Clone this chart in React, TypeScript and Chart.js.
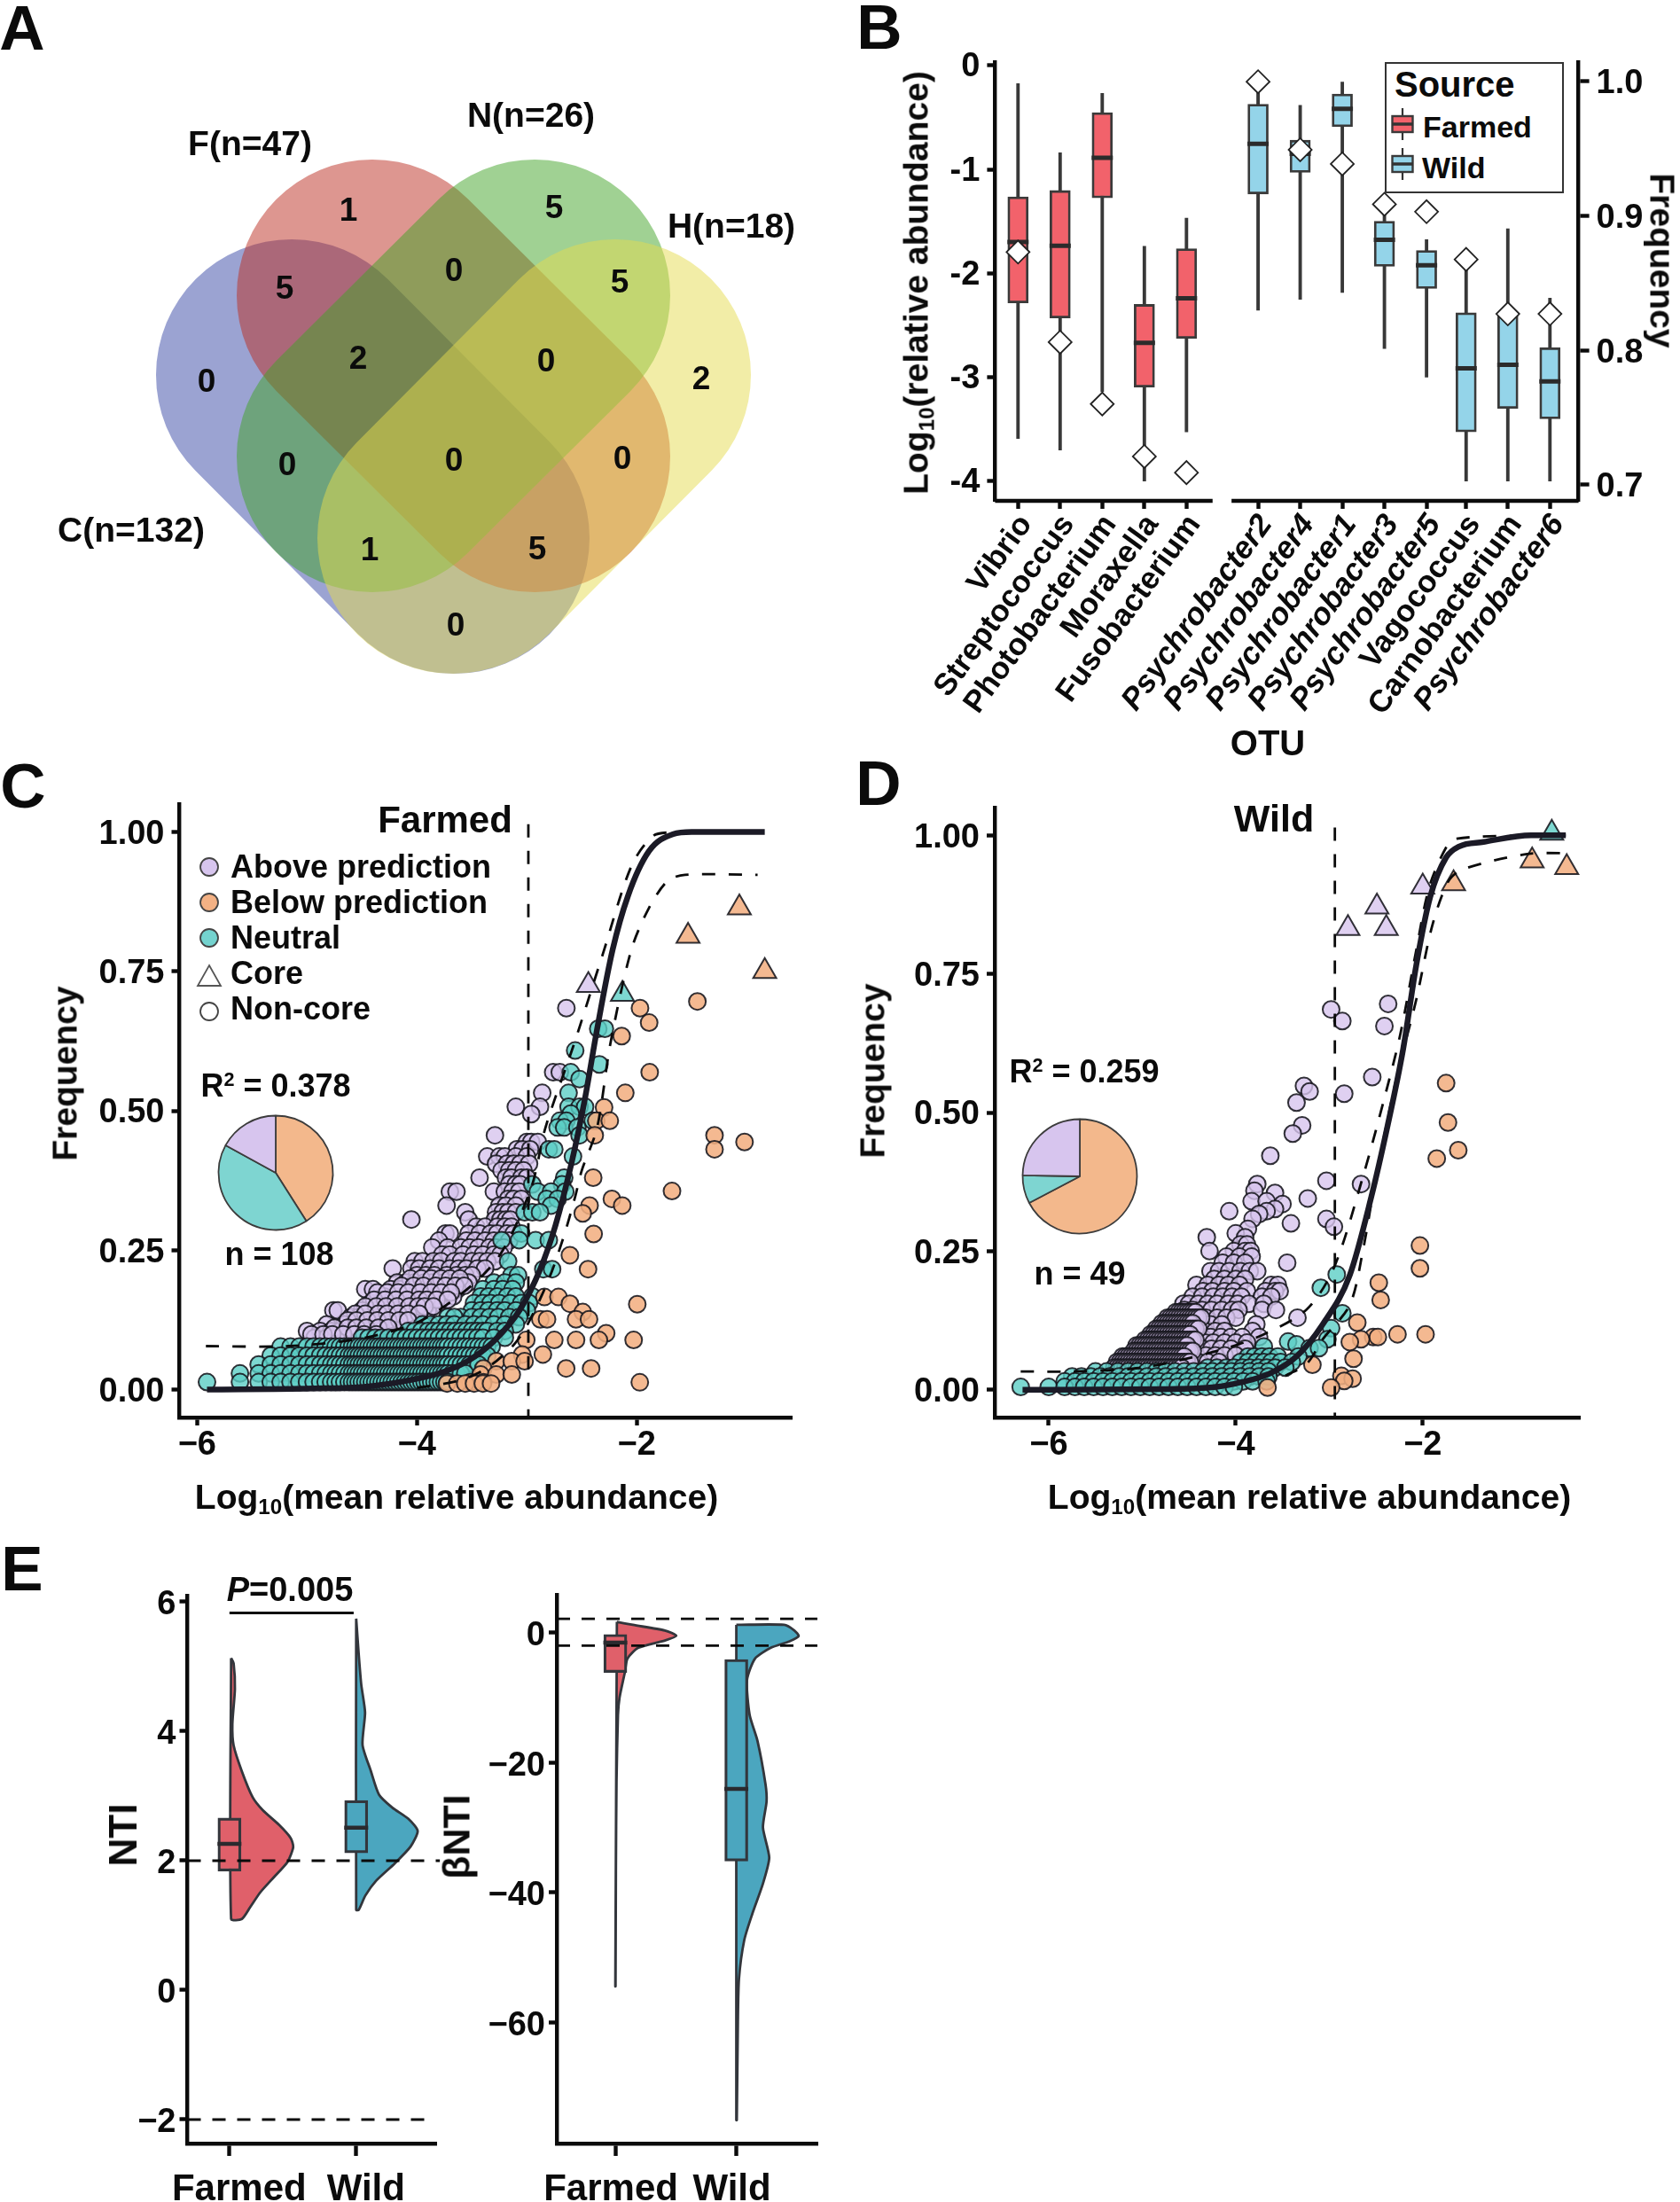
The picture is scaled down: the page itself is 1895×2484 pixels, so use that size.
import React, { useEffect, useRef } from "react";
import { Chart, registerables } from "chart.js";
Chart.register(...registerables);

const FONT = '"Liberation Sans", Arial, sans-serif';
const INK = "#0b0b0b";
const STROKE = "rgba(22,22,28,0.88)";
const CURVE = "#1b1a26";

/* ---------- Panel A ---------- */
const vennSets = ["C", "F", "N", "H"];
const vennEnds = [
  [[329, 423], [512, 607]],
  [[420, 333], [603, 515]],
  [[603, 333], [420, 515]],
  [[694, 423], [511, 607]],
];
const vennColors = ["rgba(55,71,165,0.5)", "rgba(187,45,33,0.5)", "rgba(65,163,39,0.5)", "rgba(229,219,79,0.5)"];
const vennCounts: [string, number, number][] = [
  ["1", 393, 236], ["5", 625, 233], ["5", 321, 324], ["0", 512, 304], ["5", 699, 317],
  ["0", 233, 429], ["2", 404, 403], ["0", 616, 406], ["2", 791, 426], ["0", 324, 523],
  ["0", 512, 518], ["0", 702, 516], ["1", 417, 619], ["5", 606, 618], ["0", 514, 704],
];
const vennLabels: [string, number, number][] = [
  ["F(n=47)", 282, 161], ["N(n=26)", 599, 129], ["H(n=18)", 825, 254], ["C(n=132)", 148, 597],
];

/* ---------- Panel B ---------- */
const otuFarmed = ["Vibrio", "Streptococcus", "Photobacterium", "Moraxella", "Fusobacterium"];
const otuWild = ["Psychrobacter2", "Psychrobacter4", "Psychrobacter1", "Psychrobacter3", "Psychrobacter5", "Vagococcus", "Carnobacterium", "Psychrobacter6"];
const otuSlots = [0, 1, 2, 3, 4, 5.7, 6.7, 7.7, 8.7, 9.7, 10.64, 11.63, 12.63];
const otuWhiskTop = [-0.175, -0.84, -0.27, -1.74, -1.47, -0.22, -0.384, -0.16, -1.38, -1.677, -1.93, -1.573, -2.24];
const otuBoxTop = [-1.265, -1.204, -0.455, -2.3, -1.763, -0.374, -0.72, -0.275, -1.5, -1.78, -2.38, -2.4, -2.716];
const otuMedian = [-1.7, -1.735, -0.89, -2.67, -2.24, -0.754, -0.85, -0.417, -1.677, -1.924, -2.915, -2.88, -3.04];
const otuBoxBottom = [-2.285, -2.43, -1.275, -3.095, -2.626, -1.237, -1.03, -0.59, -1.934, -2.147, -3.526, -3.3, -3.4];
const otuWhiskLow = [-3.59, -3.7, -3.14, -4, -3.526, -2.355, -2.25, -2.185, -2.725, -3, -4, -4, -4];
const otuFrequency = [0.873, 0.806, 0.76, 0.721, 0.709, 0.9996, 0.949, 0.9385, 0.9085, 0.903, 0.8675, 0.827, 0.827];
const bAbundanceTicks = [0, -1, -2, -3, -4];
const bFrequencyTicks = [1.0, 0.9, 0.8, 0.7];

/* ---------- Panels C / D ---------- */
type Rows = [number, number[]][];
const coreAboveC = [{ x: -2.44, y: 0.725 }];
const coreNeutralC = [{ x: -2.13, y: 0.709 }];
const coreBelowC = [{ x: -1.533, y: 0.813 }, { x: -1.066, y: 0.864 }, { x: -0.835, y: 0.75 }];
const belowC: Rows = [
  [0.696, [-1.448]], [0.684, [-1.97]], [0.658, [-1.887]], [0.634, [-2.137]], [0.569, [-1.882]], [0.532, [-2.104]],
  [0.506, [-2.297]], [0.482, [-2.368, -2.245]], [0.456, [-2.382, -1.292]], [0.444, [-1.019]], [0.431, [-1.292]],
  [0.38, [-2.396]], [0.356, [-1.679]], [0.342, [-2.226]], [0.33, [-2.132, -2.429]], [0.316, [-2.491]], [0.279, [-2.392]],
  [0.241, [-2.608]], [0.216, [-2.443]], [0.166, [-2.84, -2.712]], [0.154, [-2.608]], [0.153, [-1.995]], [0.139, [-2.491]],
  [0.126, [-2.877, -2.816, -2.552, -2.434]], [0.101, [-2.278]], [0.089, [-3.005, -2.75, -2.552, -2.344, -2.028]],
  [0.063, [-3.042, -2.854]], [0.051, [-3.278, -3.137, -3.02]], [0.038, [-3.396, -2.642, -2.415]],
  [0.027, [-3.42, -3.278, -3.137]], [0.013, [-3.514, -3.396, -1.972]], [0.011, [-3.726, -3.632, -3.56, -3.48, -3.4, -3.325]],
];
const aboveC: Rows = [
  [0.684, [-2.64]], [0.569, [-2.76, -2.7]], [0.532, [-2.86]], [0.507, [-3.1, -2.88]], [0.494, [-2.96]], [0.456, [-3.29]],
  [0.444, [-3.0, -2.96, -2.9]], [0.431, [-3.09, -3.04, -2.97]], [0.418, [-3.36, -3.25, -3.2, -3.1, -3.0]],
  [0.405, [-3.28, -3.18, -3.12, -3.06, -2.98]], [0.393, [-3.23, -3.16, -3.1, -3.03]], [0.38, [-3.43, -3.19, -3.14, -3.05, -3.0]],
  [0.368, [-3.16, -3.1, -3.06]], [0.355, [-3.7, -3.64, -3.3, -3.2, -3.13, -3.07]], [0.342, [-3.17, -3.12, -3.05]],
  [0.33, [-3.73, -3.25, -3.19, -3.1]], [0.318, [-3.56, -3.28, -3.22, -3.17, -3.1]], [0.305, [-4.05, -3.53, -3.29, -3.24, -3.19, -3.15]],
  [0.292, [-3.46, -3.38, -3.27, -3.2, -3.14]], [0.28, [-3.74, -3.7, -3.53, -3.43, -3.33, -3.27, -3.18, -3.12]],
  [0.267, [-3.8, -3.55, -3.47, -3.38, -3.3, -3.22, -3.16]], [0.255, [-3.86, -3.72, -3.6, -3.52, -3.44, -3.34, -3.28, -3.21]],
  [0.242, [-3.77, -3.7, -3.58, -3.48, -3.4, -3.3, -3.24]], [0.23, [-4.02, -3.95, -3.85, -3.78, -3.66, -3.6, -3.5, -3.43, -3.36, -3.29]],
  [0.217, [-4.22, -4.05, -3.98, -3.88, -3.8, -3.7, -3.62, -3.55, -3.45, -3.38]], [0.205, [-4.0, -3.92, -3.84, -3.73, -3.64, -3.56, -3.5]],
  [0.192, [-4.18, -4.1, -4.02, -3.93, -3.86, -3.76, -3.67, -3.6, -3.53]], [0.18, [-4.47, -4.4, -4.24, -4.15, -4.05, -3.98, -3.88, -3.8, -3.7, -3.63]],
  [0.167, [-4.3, -4.2, -4.12, -4.0, -3.92, -3.84, -3.75, -3.67]], [0.155, [-4.42, -4.34, -4.26, -4.16, -4.06, -3.96, -3.88, -3.8]],
  [0.142, [-4.76, -4.72, -4.5, -4.38, -4.3, -4.2, -4.1, -4.0, -3.9]], [0.13, [-4.6, -4.53, -4.42, -4.33, -4.24, -4.14, -4.05]],
  [0.117, [-4.82, -4.66, -4.58, -4.48, -4.38, -4.28, -4.18]], [0.105, [-5.0, -4.88, -4.78, -4.7, -4.6, -4.5, -4.42, -4.32]],
  [0.093, [-4.93, -4.82, -4.74, -4.64, -4.54, -4.45]],
  [0.199, [-4.06, -3.96, -3.87, -3.78, -3.7, -3.61]], [0.186, [-4.14, -4.03, -3.94, -3.83, -3.74, -3.65, -3.57]],
  [0.174, [-4.36, -4.27, -4.17, -4.08, -3.97, -3.87, -3.78, -3.69]], [0.161, [-4.39, -4.29, -4.19, -4.09, -3.98, -3.91, -3.82, -3.72]],
  [0.149, [-4.47, -4.37, -4.28, -4.18, -4.07, -3.99, -3.93, -3.85]], [0.136, [-4.56, -4.47, -4.35, -4.27, -4.17, -4.08, -3.98]],
  [0.124, [-4.63, -4.55, -4.45, -4.36, -4.26, -4.16, -4.08]], [0.111, [-4.75, -4.63, -4.55, -4.46, -4.35, -4.26]],
  [0.099, [-4.96, -4.85, -4.77, -4.67, -4.57, -4.48, -4.37]],
];
const columnsC = [-5.91, -5.61, -5.44, -5.33, -5.24, -5.15, -5.07, -5.0, -4.94, -4.88, -4.83, -4.78, -4.74, -4.7, -4.66, -4.62, -4.59, -4.56, -4.53, -4.5, -4.47, -4.44, -4.41, -4.38, -4.35, -4.32, -4.29, -4.26, -4.23, -4.2, -4.17, -4.14, -4.11, -4.08, -4.05, -4.02, -3.99, -3.96, -3.93, -3.9, -3.87, -3.84, -3.81, -3.78, -3.75, -3.72, -3.68, -3.64, -3.6, -3.56, -3.52, -3.48, -3.44, -3.4, -3.36, -3.32];
const neutralC: Rows = [
  [0.647, [-2.35, -2.29]], [0.608, [-2.56]], [0.583, [-2.34]], [0.569, [-2.6]], [0.557, [-2.52]], [0.532, [-2.62]],
  [0.507, [-2.62, -2.52, -2.47]], [0.495, [-2.6]], [0.482, [-2.7, -2.64, -2.4]], [0.47, [-2.72, -2.66, -2.54]], [0.456, [-2.52]],
  [0.431, [-2.8, -2.75]], [0.418, [-2.58]], [0.38, [-2.66]], [0.368, [-2.95, -2.68]], [0.355, [-2.9, -2.78, -2.65]],
  [0.342, [-2.82, -2.72]], [0.33, [-2.78]], [0.318, [-3.02, -2.95, -2.88]], [0.28, [-3.05]], [0.268, [-3.23, -3.07, -2.92, -2.8]],
  [0.23, [-3.17]], [0.216, [-2.85, -2.77]], [0.205, [-3.14, -3.08]], [0.192, [-3.3, -3.2, -3.1]], [0.18, [-3.4, -3.3, -3.22, -3.13]],
  [0.167, [-3.42, -3.35, -3.27, -3.18, -3.1, -2.95]], [0.155, [-3.48, -3.4, -3.33, -3.25, -3.15, -3.05, -2.98]],
  [0.142, [-3.5, -3.42, -3.35, -3.27, -3.2, -3.1, -3.0]], [0.13, [-3.6, -3.5, -3.42, -3.34, -3.26, -3.16, -3.07, -3.72, -3.66]],
  [0.117, [-3.95, -3.88, -3.8, -3.73, -3.66, -3.56, -3.48, -3.4, -3.3, -3.2, -3.1]],
  [0.105, [-4.08, -4.02, -3.96, -3.9, -3.85, -3.8, -3.75, -3.7, -3.65, -3.6, -3.55, -3.5, -3.45, -3.4, -3.36, -3.27, -3.2]],
  [0.093, [-4.5, -4.44, -4.38, -4.32, -4.26, -4.2, -4.15, -4.1, -4.05, -4.0, -3.95, -3.9, -3.85, -3.8, -3.75, -3.7, -3.65, -3.6, -3.55, -3.5, -3.45, -3.4, -3.3, -3.2]],
  [0.077, columnsC.slice(4, 56)],
  [0.061, columnsC.slice(3, 55)],
  [0.045, columnsC.slice(2, 53)],
  [0.029, columnsC.slice(1, 50)],
  [0.0135, columnsC.slice(0, 46)],
];
const curveCx = [-5.91, -4.95, -4.48, -4.01, -3.77, -3.54, -3.3, -3.06, -2.88, -2.74, -2.59, -2.47, -2.36, -2.22, -2.08, -1.89, -1.67, -1.5, -0.835];
const curveCy = [0, 0.002, 0.005, 0.019, 0.031, 0.051, 0.087, 0.144, 0.215, 0.294, 0.409, 0.523, 0.647, 0.788, 0.885, 0.965, 0.996, 1, 1];
const upperCx = [-5.92, -5.17, -4.5, -3.97, -3.5, -3.23, -2.96, -2.83, -2.57, -2.31, -2.05, -1.85, -1.67];
const upperCy = [0.078, 0.078, 0.092, 0.123, 0.187, 0.246, 0.362, 0.47, 0.62, 0.78, 0.938, 0.993, 1];
const lowerCx = [-4.0, -3.6, -3.36, -3.12, -2.99, -2.8, -2.66, -2.56, -2.5, -2.36, -2.24, -2.05, -1.89, -1.72, -1.56, -0.9];
const lowerCy = [0.003, 0.017, 0.039, 0.08, 0.118, 0.198, 0.277, 0.346, 0.393, 0.47, 0.62, 0.788, 0.863, 0.912, 0.923, 0.923];
const cutoffCx = -2.986;
const pieCValues = [41, 42, 17];

const coreAboveD = [{ x: -2, y: 0.907 }, { x: -2.49, y: 0.871 }, { x: -2.8, y: 0.832 }, { x: -2.39, y: 0.832 }];
const coreNeutralD = [{ x: -0.62, y: 1.004 }];
const coreBelowD = [{ x: -0.83, y: 0.954 }, { x: -0.46, y: 0.942 }, { x: -1.67, y: 0.913 }];
const belowD: Rows = [
  [0.553, [-1.75]], [0.482, [-1.73]], [0.432, [-1.62]], [0.417, [-1.85]], [0.26, [-2.03]], [0.219, [-2.03]], [0.193, [-2.47]], [0.162, [-2.45]],
  [0.121, [-2.7]], [0.1, [-2.27, -1.97]], [0.095, [-2.53, -2.48]], [0.091, [-2.66]], [0.086, [-2.78]], [0.056, [-2.74]], [0.045, [-3.18]],
  [0.025, [-2.87]], [0.02, [-2.75]], [0.016, [-2.84]], [0.004, [-2.98, -3.66]],
];
const columnsD = [-5.3, -5.27, -5.24, -5.21, -5.18, -5.15, -5.12, -5.09, -5.06, -5.03, -5.0, -4.97, -4.94, -4.91, -4.88, -4.85, -4.82, -4.79, -4.76, -4.73, -4.7, -4.67, -4.64, -4.61, -4.58, -4.55, -4.52, -4.49, -4.46, -4.43, -4.4, -4.37, -4.34, -4.31];
const aboveD: Rows = [
  [0.696, [-2.37]], [0.686, [-2.98]], [0.665, [-2.86]], [0.656, [-2.41]], [0.564, [-2.54]], [0.548, [-3.27]], [0.538, [-3.21]], [0.534, [-2.84]],
  [0.518, [-3.35]], [0.477, [-3.29]], [0.462, [-3.39]], [0.422, [-3.63]], [0.377, [-3.03]], [0.371, [-3.77, -2.66]], [0.359, [-3.8]], [0.355, [-3.58]],
  [0.345, [-3.23]], [0.34, [-3.83, -3.67]], [0.335, [-3.5]], [0.326, [-3.58]], [0.322, [-4.07, -3.67]], [0.317, [-3.75]], [0.308, [-3.82, -3.03]],
  [0.3, [-3.41]], [0.294, [-2.95]], [0.29, [-3.87]], [0.282, [-4.0]], [0.275, [-4.31, -3.9]], [0.262, [-3.95, -3.88]], [0.25, [-4.28, -4.02, -3.9, -3.84]],
  [0.24, [-4.1, -3.96, -3.83]], [0.229, [-4.14, -4.02, -3.9, -3.45]], [0.214, [-4.27, -4.18, -4.07, -3.95, -3.85, -3.77]], [0.2, [-4.23, -4.12, -4.0, -3.9]],
  [0.189, [-4.42, -4.3, -4.18, -4.08, -3.96, -3.62, -3.55]], [0.178, [-4.35, -4.25, -4.12, -4.02, -3.88, -3.68, -3.58, -3.53]],
  [0.168, [-4.46, -4.36, -4.24, -4.14, -4.04, -3.94, -3.72, -3.62]], [0.155, [-4.56, -4.5, -4.4, -4.3, -4.2, -4.08, -3.98, -3.86, -3.7]],
  [0.144, [-4.55, -4.46, -4.36, -4.26, -4.15, -4.04, -3.97, -3.72, -3.57]], [0.13, [-4.32, -4.2, -4.1, -4.0, -3.34]],
  [0.118, [-4.37, -4.27, -4.15, -3.78]], [0.106, [-4.33, -4.22, -4.12, -3.82]],
  [0.095, [-4.36, -4.27, -4.16, -4.05, -3.93, -3.75]], [0.085, [-4.33, -4.24, -4.12, -4.0, -3.88]],
  [0.074, [-4.36, -4.26, -4.16, -4.05, -3.9]], [0.062, [-4.32, -4.22, -4.12, -4.0]], [0.05, [-4.4, -4.3, -4.18]],
  [0.14, columnsD.slice(22, 30)], [0.13, columnsD.slice(19, 32)], [0.12, columnsD.slice(17, 29)], [0.11, columnsD.slice(15, 31)],
  [0.1, columnsD.slice(13, 28)], [0.09, columnsD.slice(11, 30)], [0.08, columnsD.slice(8, 27)], [0.07, columnsD.slice(7, 29)],
  [0.06, columnsD.slice(3, 26)], [0.05, columnsD.slice(1, 28)], [0.04, columnsD.slice(0, 25)],
];
const neutralD: Rows = [
  [0.208, [-2.92]], [0.184, [-3.09]], [0.138, [-2.86]], [0.111, [-2.98]], [0.091, [-3.02]], [0.087, [-3.44]], [0.082, [-3.35]], [0.078, [-3.7]],
  [0.075, [-3.21, -3.11]], [0.06, [-3.87, -3.8, -3.72, -3.64, -3.55, -3.33]], [0.05, [-3.95, -3.87, -3.78, -3.7, -3.62, -3.52, -3.4]],
  [0.04, [-4.3, -4.2, -4.1, -4.02, -3.93, -3.85, -3.76, -3.67, -3.58, -3.47]],
  [0.033, [-5.5, -5.38, -5.26, -5.15, -5.05, -4.95, -4.85, -4.75, -4.65, -4.55, -4.45, -4.35, -4.25, -4.15, -4.05, -3.95, -3.85, -3.75, -3.65]],
  [0.024, [-5.75, -5.65, -5.55, -5.45, -5.35, -5.25, -5.15, -5.05, -4.95, -4.85, -4.75, -4.65, -4.55, -4.45, -4.35, -4.25, -4.15, -4.05, -3.95, -3.85, -3.75, -3.65]],
  [0.015, [-5.83, -5.72, -5.62, -5.52, -5.42, -5.32, -5.22, -5.12, -5.02, -4.92, -4.82, -4.72, -4.62, -4.52, -4.42, -4.32, -4.22, -4.12, -4.02, -3.92, -3.82, -3.67]],
  [0.005, [-6.3, -6.0, -5.83, -5.72, -5.62, -5.52, -5.42, -5.32, -5.22, -5.12, -5.02, -4.92, -4.82, -4.72, -4.62, -4.52, -4.42, -4.32, -4.22, -4.12, -4.02]],
];
const curveDx = [-6.28, -4.78, -4.21, -3.93, -3.64, -3.35, -3.07, -2.78, -2.55, -2.38, -2.21, -2.07, -1.92, -1.75, -1.61, -1.35, -0.84, -0.47];
const curveDy = [0, 0.001, 0.005, 0.014, 0.029, 0.06, 0.118, 0.207, 0.348, 0.473, 0.614, 0.765, 0.889, 0.96, 0.98, 0.988, 1, 1];
const upperDx = [-6.3, -5.75, -5.0, -4.2, -3.7, -3.24, -2.95, -2.64, -2.41, -2.24, -2.07, -1.93, -1.75, -1.64, -0.78, -0.47];
const upperDy = [0.033, 0.033, 0.04, 0.07, 0.1, 0.145, 0.22, 0.384, 0.526, 0.641, 0.792, 0.907, 0.978, 0.994, 1, 1];
const lowerDx = [-3.47, -3.24, -3.07, -2.78, -2.64, -2.5, -2.27, -2.07, -1.9, -1.73, -1.58, -0.9, -0.47];
const lowerDy = [0.025, 0.047, 0.091, 0.153, 0.251, 0.384, 0.57, 0.703, 0.836, 0.916, 0.938, 0.966, 0.968];
const cutoffDx = -2.94;
const pieDValues = [67.3, 8, 24.7];
const freqTicks = [0, 0.25, 0.5, 0.75, 1];

/* ---------- Panel E ---------- */
const groups = ["Farmed", "Wild"];
const ntiFarmedLevel = [5.13, 5.05, 4.65, 4.11, 3.78, 3.38, 2.98, 2.78, 2.55, 2.35, 2.21, 1.98, 1.75, 1.51, 1.28, 1.1, 1.1, 5.13];
const ntiFarmedDensity = [0, 0.02, 0.03, 0.01, 0.02, 0.085, 0.17, 0.25, 0.38, 0.47, 0.49, 0.445, 0.34, 0.23, 0.15, 0.085, 0, 0];
const ntiWildLevel = [5.74, 5.19, 4.72, 4.29, 3.79, 3.39, 3.02, 2.82, 2.65, 2.46, 2.22, 1.96, 1.69, 1.46, 1.24, 1.24, 5.74];
const ntiWildDensity = [0, 0.02, 0.04, 0.07, 0.05, 0.115, 0.18, 0.285, 0.41, 0.485, 0.43, 0.305, 0.157, 0.072, 0.02, 0, 0];
const ntiBoxLow = [1.84, 2.12];
const ntiBoxHigh = [2.66, 2.93];
const ntiMedian = [2.26, 2.51];
const ntiTicks = [-2, 0, 2, 4, 6];
const btiFarmedLevel = [1.67, 1.2, 0.33, -0.47, -1.2, -2.33, -4, -6, -10, -12.67, -23, -36.7, -54.5, -54.5, 1.67];
const btiFarmedDensity = [0.013, 0.145, 0.41, 0.504, 0.41, 0.19, 0.1, 0.08, 0.035, 0.022, 0.01, 0.005, 0.002, 0, 0.013];
const btiWildLevel = [1.2, 1.2, 0.33, -0.53, -1.33, -2.33, -4, -7.33, -12.67, -16.67, -23.33, -26, -30, -34.67, -38.67, -43.33, -47.33, -53.33, -60, -75.1, -75.1, 1.2];
const btiWildDensity = [0, 0.395, 0.48, 0.515, 0.44, 0.285, 0.154, 0.088, 0.11, 0.175, 0.241, 0.25, 0.22, 0.272, 0.22, 0.132, 0.066, 0.022, 0.013, 0.004, 0, 0];
const btiBoxLow = [-6.13, -35.2];
const btiBoxHigh = [-0.27, -4.13];
const btiMedian = [-1.53, -24.07];
const btiTicks = [-60, -40, -20, 0];

/* ---------- helpers ---------- */
const pts = (xs: number[], ys: number[]) => xs.map((x, i) => ({ x, y: ys[i] }));
const fromRows = (rows: Rows) => rows.flatMap(([y, xs]) => xs.map((x) => ({ x, y })));
const minusText = (v: number) => (v < 0 ? "\u2212" + Math.abs(v) : String(v));
const font = (size: number, style = "normal") => ({ family: FONT, size, weight: "bold" as const, style, lineHeight: 1 });

// back-to-front list -> Chart.js order (datasets with a higher order are painted first)
const stack = (list: any[]) => list.map((d, i) => ({ ...d, order: list.length - i }));

const zero = (s: any) => { s.paddingLeft = s.paddingRight = s.paddingTop = s.paddingBottom = 0; };
const fixW = (w: number) => (s: any) => { s.width = w; zero(s); };
const fixH = (h: number) => (s: any) => { s.height = h; zero(s); };

const axis = (o: any) => ({
  type: "linear",
  min: o.min,
  max: o.max,
  position: o.position,
  offset: false,
  border: { display: o.line !== false, width: o.lw ?? 4.4, color: INK },
  grid: { display: true, offset: false, drawOnChartArea: false, drawTicks: true, tickLength: o.tickLength ?? 9, tickWidth: 4.4, tickColor: INK },
  ticks: {
    color: INK,
    font: o.font ?? font(38),
    padding: o.padding ?? 8,
    autoSkip: false,
    maxRotation: o.rotation ?? 0,
    minRotation: o.rotation ?? 0,
    labelOffset: o.labelOffset ?? 0,
    callback: o.format,
  },
  afterBuildTicks: (s: any) => { s.ticks = o.ticks.map((value: number) => ({ value })); },
  afterFit: o.fit,
});

const base = (box: number[], plot: number[], rightAxis = false) => {
  const [cx, cy, cw] = box;
  const [, t, r] = plot;
  return {
    responsive: false,
    animation: false,
    devicePixelRatio: 1,
    events: [],
    layout: { padding: { top: t - cy, right: rightAxis ? 0 : Math.max(0, cx + cw - r), left: 0, bottom: 0 } },
    plugins: { legend: { display: false }, tooltip: { enabled: false } },
  };
};

const lineDs = (data: any[], extra: any = {}) => ({
  type: "scatter",
  data,
  showLine: true,
  pointRadius: 0,
  clip: false,
  borderColor: INK,
  borderWidth: 2.5,
  ...extra,
});
const dashDs = (data: any[], extra: any = {}) => lineDs(data, { borderDash: [15, 15], borderWidth: 2.8, ...extra });

/* ---------- chart configs ---------- */
const vennConfig = () => ({
  type: "scatter",
  data: {
    datasets: stack(
      vennSets.map((label, i) =>
        lineDs(vennEnds[i].map(([x, y]) => ({ x, y })), { label, borderColor: vennColors[i], borderWidth: 306, borderCapStyle: "round" }),
      ),
    ),
  },
  options: {
    responsive: false,
    animation: false,
    devicePixelRatio: 1,
    events: [],
    layout: { padding: 0 },
    plugins: { legend: { display: false }, tooltip: { enabled: false } },
    scales: {
      x: { type: "linear", display: false, min: 0, max: 950 },
      y: { type: "linear", display: false, min: 0, max: 800, reverse: true },
    },
  },
});

const B_BOX = [1020, 40, 875, 800];
const B_PLOT = [1122.4, 70.5, 1780.6, 565];
const bConfig = () => {
  const names = [...otuFarmed, ...otuWild];
  const boxColor = names.map((_, i) => (i < otuFarmed.length ? "#F2626B" : "#94D4E9"));
  const xMin = -0.545, xMax = 13.31, yMin = -4.19;
  return {
    type: "bar",
    data: {
      datasets: stack([
        lineDs([{ x: xMin, y: yMin }, { x: 4.62, y: yMin }], { borderWidth: 4.4 }),
        lineDs([{ x: 5.07, y: yMin }, { x: xMax, y: yMin }], { borderWidth: 4.4 }),
        { type: "bar", grouped: false, barThickness: 3.2, backgroundColor: "#383838", clip: false, data: otuSlots.map((x, i) => ({ x, y: [otuWhiskLow[i], otuWhiskTop[i]] })) },
        { type: "bar", grouped: false, barThickness: 23, backgroundColor: boxColor, borderColor: "#3a3a3a", borderWidth: 2.8, borderSkipped: false, data: otuSlots.map((x, i) => ({ x, y: [otuBoxBottom[i], otuBoxTop[i]] })) },
        { type: "scatter", pointStyle: "line", pointRadius: 12, pointBorderWidth: 5, borderColor: "#2b2b2b", data: pts(otuSlots, otuMedian) },
        { type: "scatter", yAxisID: "y2", pointStyle: "rectRot", pointRadius: 13, pointBorderWidth: 1.8, pointBackgroundColor: "#fff", pointBorderColor: "#222", clip: false, data: pts(otuSlots, otuFrequency) },
      ]),
    },
    options: {
      ...base(B_BOX, B_PLOT, true),
      scales: {
        x: {
          ...axis({
            min: xMin, max: xMax, ticks: otuSlots, line: false, rotation: 54,
            fit: fixH(B_BOX[1] + B_BOX[3] - B_PLOT[3]),
            padding: 1, labelOffset: 9,
            format: (v: number) => names[otuSlots.indexOf(v)],
          }),
        },
        y: axis({
          min: yMin, max: 0.028, position: "left", ticks: bAbundanceTicks, labelOffset: 2,
          fit: fixW(B_PLOT[0] - B_BOX[0]),
          format: (v: number) => String(v),
        }),
        y2: axis({
          min: 0.688, max: 1.0139, position: "right", ticks: bFrequencyTicks, labelOffset: 3, tickLength: 12,
          fit: fixW(B_BOX[0] + B_BOX[2] - B_PLOT[2]),
          format: (v: number) => v.toFixed(1),
        }),
      },
    },
  };
};
// italic genus labels on the wild side
const italicise = (cfg: any) => {
  const total = otuFarmed.length;
  cfg.options.scales.x.ticks.font = (ctx: any) =>
    font(35, ctx.index >= total && String(ctx.tick?.label ?? "").startsWith("Psychro") ? "italic" : "normal");
  return cfg;
};

const scatterStyle = (color: string, r = 9.5) => ({
  type: "scatter",
  backgroundColor: color,
  borderColor: STROKE,
  borderWidth: 2,
  pointRadius: r,
  clip: false,
});
const PURPLE = "rgba(215,196,238,0.8)";
const TEAL = "rgba(92,206,198,0.8)";
const ORANGE = "rgba(243,175,130,0.88)";
const triangle = (color: string, data: any[]) => ({ ...scatterStyle(color, 15), pointStyle: "triangle", data });

const modelConfig = (o: any) => ({
  type: "scatter",
  data: {
    datasets: stack([
      { ...scatterStyle(PURPLE), data: fromRows(o.above) },
      { ...scatterStyle(TEAL), data: fromRows(o.neutral) },
      { ...scatterStyle(ORANGE), data: fromRows(o.below) },
      triangle(PURPLE, o.coreAbove),
      triangle(TEAL, o.coreNeutral),
      triangle(ORANGE, o.coreBelow),
      dashDs(o.upper, { tension: 0.3 }),
      dashDs(o.lower, { tension: 0.3 }),
      dashDs([{ x: o.cutoff, y: 1.014 }, { x: o.cutoff, y: -0.047 }]),
      lineDs(o.curve, { borderColor: CURVE, borderWidth: 6.5, cubicInterpolationMode: "monotone", borderCapStyle: "butt" }),
    ]),
  },
  options: {
    ...base(o.box, o.plot),
    scales: {
      x: axis({ min: o.xMin, max: o.xMax, ticks: [-6, -4, -2], fit: fixH(o.box[1] + o.box[3] - o.plot[3]), format: minusText, padding: 4 }),
      y: axis({ min: -0.05, max: 1.05, position: "left", ticks: freqTicks, labelOffset: 3, fit: fixW(o.plot[0] - o.box[0]), format: (v: number) => v.toFixed(2) }),
    },
  },
});

const C_BOX = [60, 880, 850, 800];
const C_PLOT = [202.5, 907, 895, 1599];
const cConfig = () =>
  modelConfig({
    box: C_BOX, plot: C_PLOT, xMin: -6.16, xMax: -0.59,
    above: aboveC, neutral: neutralC, below: belowC,
    coreAbove: coreAboveC, coreNeutral: coreNeutralC, coreBelow: coreBelowC,
    upper: pts(upperCx, upperCy), lower: pts(lowerCx, lowerCy), curve: pts(curveCx, curveCy), cutoff: cutoffCx,
  });
const D_BOX = [1000, 880, 820, 800];
const D_PLOT = [1122, 911, 1782, 1599];
const dConfig = () =>
  modelConfig({
    box: D_BOX, plot: D_PLOT, xMin: -6.578, xMax: -0.32,
    above: aboveD, neutral: neutralD, below: belowD,
    coreAbove: coreAboveD, coreNeutral: coreNeutralD, coreBelow: coreBelowD,
    upper: pts(upperDx, upperDy), lower: pts(lowerDx, lowerDy), curve: pts(curveDx, curveDy), cutoff: cutoffDx,
  });

const pieConfig = (values: number[]) => ({
  type: "pie",
  data: {
    labels: ["Below prediction", "Neutral", "Above prediction"],
    datasets: [{ data: values, backgroundColor: ["#F3B88C", "#7ED5D1", "#D7C5EE"], borderColor: "#3c3c3c", borderWidth: 1.8 }],
  },
  options: {
    responsive: false, animation: false, devicePixelRatio: 1, events: [], radius: 64.5, layout: { padding: 0 },
    plugins: { legend: { display: false }, tooltip: { enabled: false } },
  },
});

const RED = "#E0606A";
const BLUE = "#4BA6BF";
const violinDs = (base: number, level: number[], density: number[], color: string) =>
  lineDs(level.map((y, i) => ({ x: base + density[i], y })), {
    fill: "shape", backgroundColor: color, borderColor: "#33363c", borderWidth: 2.8, tension: 0.22,
  });

const violinConfig = (o: any) => ({
  type: "bar",
  data: {
    datasets: stack([
      violinDs(o.bases[0], o.farmedLevel, o.farmedDensity, RED),
      violinDs(o.bases[1], o.wildLevel, o.wildDensity, BLUE),
      { type: "bar", grouped: false, barThickness: 26, backgroundColor: [RED, BLUE], borderColor: "#33363c", borderWidth: 3.2, borderSkipped: false, data: [1, 2].map((x, i) => ({ x, y: [o.low[i], o.high[i]] })) },
      { type: "scatter", pointStyle: "line", pointRadius: 13.5, pointBorderWidth: 4.5, borderColor: "#2a2a2e", data: pts([1, 2], o.median) },
      ...o.dashes.map((d: any[]) => dashDs(d, { borderDash: [15, 13] })),
      ...(o.bracket ? [lineDs(o.bracket, { borderWidth: 3 })] : []),
    ]),
  },
  options: {
    ...base(o.box, o.plot),
    scales: {
      x: axis({
        min: o.xMin, max: o.xMax, ticks: [1, 2], fit: fixH(o.box[1] + o.box[3] - o.plot[3]),
        labelOffset: o.labelOffset, padding: 17, font: font(42), tickLength: 14, format: (v: number) => groups[v - 1],
      }),
      y: axis({ min: o.yMin, max: o.yMax, position: "left", ticks: o.yTicks, labelOffset: 4, padding: 4, fit: fixW(o.plot[0] - o.box[0]), format: minusText }),
    },
  },
});

const E1_BOX = [100, 1780, 420, 704];
const E1_PLOT = [211.5, 1800.4, 492.7, 2418];
const E2_BOX = [520, 1780, 420, 704];
const E2_PLOT = [628, 1799, 926, 2418];
const e1Config = () =>
  violinConfig({
    box: E1_BOX, plot: E1_PLOT, xMin: 0.669, xMax: 2.636, yMin: -2.37, yMax: 6.09, yTicks: ntiTicks, labelOffset: 11, bases: [1.013, 2],
    farmedLevel: ntiFarmedLevel, farmedDensity: ntiFarmedDensity, wildLevel: ntiWildLevel, wildDensity: ntiWildDensity,
    low: ntiBoxLow, high: ntiBoxHigh, median: ntiMedian,
    dashes: [[{ x: 0.669, y: 2 }, { x: 2.66, y: 2 }], [{ x: 0.669, y: -2 }, { x: 2.55, y: -2 }]],
    bracket: [{ x: 1, y: 5.83 }, { x: 1.98, y: 5.83 }],
  });
const e2Config = () =>
  violinConfig({
    box: E2_BOX, plot: E2_PLOT, xMin: 0.516, xMax: 2.67, yMin: -78.7, yMax: 5.84, yTicks: btiTicks, labelOffset: -5, bases: [1, 2],
    farmedLevel: btiFarmedLevel, farmedDensity: btiFarmedDensity, wildLevel: btiWildLevel, wildDensity: btiWildDensity,
    low: btiBoxLow, high: btiBoxHigh, median: btiMedian,
    dashes: [[{ x: 0.516, y: 2.13 }, { x: 2.67, y: 2.13 }], [{ x: 0.516, y: -2 }, { x: 2.67, y: -2 }]],
  });

/* ---------- React pieces ---------- */
function Plot({ box, make }: { box: number[]; make: () => any }) {
  const ref = useRef<HTMLCanvasElement>(null);
  useEffect(() => {
    const chart = new Chart(ref.current as any, make());
    return () => chart.destroy();
  }, []);
  const [x, y, w, h] = box;
  return <canvas ref={ref} width={w} height={h} style={{ position: "absolute", left: x, top: y, width: w, height: h }} />;
}

function T({ x, y, size, rotate = 0, left = false, children }: any) {
  return (
    <div
      style={{
        position: "absolute", left: x, top: y, fontFamily: FONT, fontWeight: "bold", fontSize: size, lineHeight: 1, color: INK, whiteSpace: "nowrap",
        transform: `translate(${left ? "0" : "-50%"},-50%) rotate(${rotate}deg)`,
      }}
    >
      {children}
    </div>
  );
}
const Sub = ({ children }: any) => <sub style={{ fontSize: "62%", lineHeight: 0, verticalAlign: "-0.28em" }}>{children}</sub>;
const Sup = ({ children }: any) => <sup style={{ fontSize: "60%", lineHeight: 0, verticalAlign: "0.55em" }}>{children}</sup>;

function ModelLegend({ x, rows }: { x: number; rows: number[] }) {
  const items = ["Above prediction", "Below prediction", "Neutral", "Core", "Non-core"];
  const fills = ["#D7C5EE", "#F3B184", "#74D3CF", "#fff", "#fff"];
  return (
    <>
      {items.map((label, i) => (
        <React.Fragment key={label}>
          <svg width={30} height={30} style={{ position: "absolute", left: x - 15, top: rows[i] - 15 + (i === 3 ? 2 : i === 4 ? 3 : 0) }}>
            {i === 3 ? (
              <polygon points="15,4 28,27 2,27" fill="#fff" stroke="#555" strokeWidth={1.8} />
            ) : (
              <circle cx={15} cy={15} r={10} fill={fills[i]} stroke="#444" strokeWidth={1.8} />
            )}
          </svg>
          <T x={x + 24} y={rows[i]} size={36} left>{label}</T>
        </React.Fragment>
      ))}
    </>
  );
}

function BLegendKey({ x, y, color }: { x: number; y: number; color: string }) {
  return (
    <svg width={30} height={40} style={{ position: "absolute", left: x - 15, top: y - 20 }}>
      <line x1={15} x2={15} y1={2} y2={38} stroke="#333" strokeWidth={2.2} />
      <rect x={3.5} y={11} width={23} height={18} fill={color} stroke="#3a3a3a" strokeWidth={2.4} />
      <line x1={3} x2={27} y1={20} y2={20} stroke="#333" strokeWidth={3.5} />
    </svg>
  );
}

export default function App() {
  return (
    <div style={{ position: "absolute", left: 0, top: 0, width: 1895, height: 2484, overflow: "hidden", background: "#fff" }}>
      <Plot box={[0, 0, 950, 800]} make={vennConfig} />
      <Plot box={B_BOX} make={() => italicise(bConfig())} />
      <Plot box={C_BOX} make={cConfig} />
      <Plot box={D_BOX} make={dConfig} />
      <Plot box={[241, 1253, 140, 140]} make={() => pieConfig(pieCValues)} />
      <Plot box={[1148, 1257, 140, 140]} make={() => pieConfig(pieDValues)} />
      <Plot box={E1_BOX} make={e1Config} />
      <Plot box={E2_BOX} make={e2Config} />

      <T x={25} y={31} size={71}>A</T>
      <T x={992} y={30} size={71}>B</T>
      <T x={26} y={886} size={71}>C</T>
      <T x={991} y={883} size={71}>D</T>
      <T x={25} y={1769} size={71}>E</T>

      {vennCounts.map(([s, x, y], i) => <T key={i} x={x} y={y} size={37}>{s}</T>)}
      {vennLabels.map(([s, x, y]) => <T key={s} x={x} y={y} size={39}>{s}</T>)}

      <T x={1033} y={319} size={39} rotate={-90}>Log<Sub>10</Sub>(relative abundance)</T>
      <T x={1875} y={294} size={39} rotate={90}>Frequency</T>
      <T x={1430} y={838} size={40}>OTU</T>
      <div style={{ position: "absolute", left: 1562, top: 70, width: 198, height: 144, border: "2px solid #333", background: "#fff" }} />
      <T x={1573} y={95} size={40} left>Source</T>
      <BLegendKey x={1582} y={140} color="#F2626B" />
      <T x={1605} y={143} size={34} left>Farmed</T>
      <BLegendKey x={1582} y={185} color="#94D4E9" />
      <T x={1604} y={189} size={34} left>Wild</T>

      <T x={502} y={925} size={42}>Farmed</T>
      <ModelLegend x={236} rows={[978, 1018, 1058, 1098, 1138]} />
      <T x={311} y={1225} size={36}>R<Sup>2</Sup> = 0.378</T>
      <T x={315} y={1415} size={36}>n = 108</T>
      <T x={73} y={1211} size={39} rotate={-90}>Frequency</T>
      <T x={515} y={1688} size={39}>Log<Sub>10</Sub>(mean relative abundance)</T>

      <T x={1437} y={923} size={43}>Wild</T>
      <T x={1223} y={1209} size={36}>R<Sup>2</Sup> = 0.259</T>
      <T x={1218} y={1437} size={36}>n = 49</T>
      <T x={984} y={1208} size={39} rotate={-90}>Frequency</T>
      <T x={1477} y={1688} size={39}>Log<Sub>10</Sub>(mean relative abundance)</T>

      <T x={327} y={1793} size={38}><i>P</i>=0.005</T>
      <T x={139} y={2070} size={44} rotate={-90}>NTI</T>
      <T x={515} y={2072} size={43} rotate={-90}>βNTI</T>
    </div>
  );
}
